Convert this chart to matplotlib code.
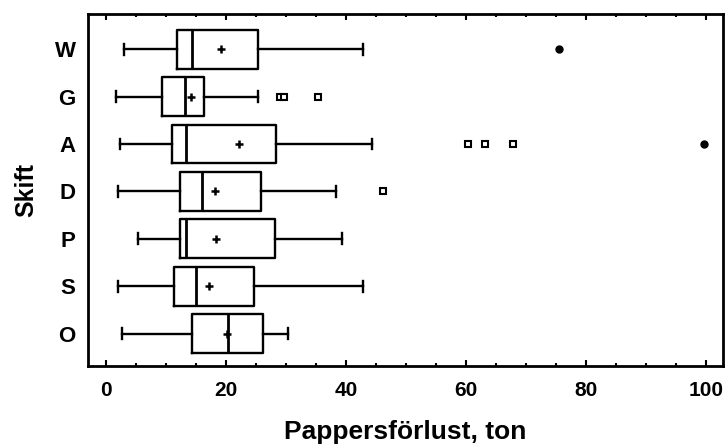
import matplotlib
matplotlib.use('Agg')
import matplotlib.pyplot as plt
from matplotlib.ticker import MultipleLocator

plt.rcParams['font.family'] = ['Liberation Sans', 'DejaVu Sans']
plt.rcParams['font.weight'] = 'bold'

# skift listed top to bottom
skift = ['W', 'G', 'A', 'D', 'P', 'S', 'O']
whislo = [3.0, 1.7, 2.3, 2.0, 5.4, 2.0, 2.7]
q1 = [11.9, 9.3, 11.0, 12.3, 12.3, 11.3, 14.3]
med = [14.4, 13.1, 13.3, 16.0, 13.3, 15.0, 20.4]
mean = [19.1, 14.1, 22.1, 18.2, 18.4, 17.1, 20.2]
q3 = [25.4, 16.4, 28.3, 25.8, 28.1, 24.7, 26.1]
whishi = [42.8, 25.4, 44.4, 38.4, 39.4, 42.8, 30.4]
outliers = [[], [29.0, 29.6, 35.4], [60.3, 63.1, 67.8], [46.1], [], [], []]
far_outliers = [[75.4], [], [99.7], [], [], [], []]

positions = list(range(len(skift), 0, -1))

stats = []
for i, s in enumerate(skift):
    stats.append(dict(label=s, whislo=whislo[i], q1=q1[i], med=med[i], mean=mean[i],
                      q3=q3[i], whishi=whishi[i], fliers=outliers[i]))

fig = plt.figure(figsize=(7.28, 4.45), dpi=100)
ax = fig.add_axes([0.1209, 0.1775, 0.8722, 0.791])

lw = 1.7
ax.bxp(stats, positions=positions, orientation='horizontal', widths=0.82, capwidths=0.23,
       showmeans=True, patch_artist=False,
       boxprops=dict(color='black', linewidth=lw),
       whiskerprops=dict(color='black', linewidth=lw),
       capprops=dict(color='black', linewidth=lw),
       medianprops=dict(color='black', linewidth=2.0),
       meanprops=dict(marker='+', markersize=6, markeredgewidth=1.8, markeredgecolor='black'),
       flierprops=dict(marker='s', markersize=4.5, markerfacecolor='white',
                       markeredgecolor='black', markeredgewidth=1.5))

for i, vals in enumerate(far_outliers):
    if vals:
        ax.plot(vals, [positions[i]] * len(vals), 'o', color='black', markersize=5)

ax.set_xlim(-3, 102.8)
ax.set_ylim(0.32, 7.74)
ax.xaxis.set_major_locator(MultipleLocator(20))
ax.xaxis.set_minor_locator(MultipleLocator(5))
ax.tick_params(axis='x', which='both', direction='in', top=True, width=1.5, labelsize=15, pad=11)
ax.tick_params(axis='x', which='major', length=4.5)
ax.tick_params(axis='x', which='minor', length=2)
ax.tick_params(axis='y', length=0, labelsize=16, pad=9)
ax.set_yticks(positions)
ax.set_yticklabels(skift)

for sp in ax.spines.values():
    sp.set_linewidth(2)

ax.set_xlabel('Pappersförlust, ton', fontsize=19, fontweight='bold', labelpad=14)
ax.set_ylabel('Skift', fontsize=18, fontweight='bold', labelpad=12)

fig.savefig('out.png', dpi=100)
